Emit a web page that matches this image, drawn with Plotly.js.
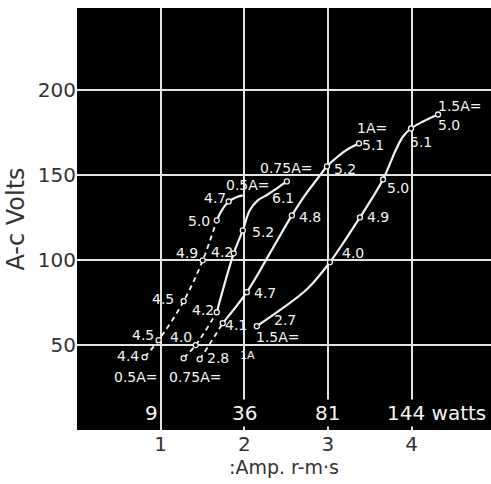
<!DOCTYPE html>
<html><head><meta charset="utf-8">
<script src="https://cdn.plot.ly/plotly-3.0.1.min.js"></script>
</head><body style="margin:0;background:#fff">
<div id="c" style="width:491px;height:484px"></div>
<script>
// ---- data ----
const xTicks = [1, 2, 3, 4];
const yTicks = [50, 100, 150, 200];
const wattX = [1, 2, 3, 4];
const wattLabels = ['9', '36', '81', '144 watts'];

const x05 = [0.808, 0.976, 1.275, 1.503, 1.671, 1.731, 1.814, 1.898, 1.982];
const y05 = [42.8, 52.8, 75.7, 99.7, 123.2, 129.1, 134.3, 136.7, 137.9];
const lab05 = ['4.4', '4.5', '4.5', '4.9', '5.0', '', '4.7', '', ''];

const x075 = [1.275, 1.419, 1.671, 1.874, 1.982, 2.066, 2.162, 2.281, 2.389, 2.509];
const y075 = [42.2, 49.9, 69.2, 103.8, 117.3, 129.1, 134.9, 138.4, 142.0, 146.1];
const lab075 = ['', '4.0', '4.2', '4.2', '5.2', '', '', '', '', '6.1'];

const x10 = [1.467, 1.563, 1.743, 2.030, 2.305, 2.569, 2.725, 2.868, 2.988, 3.132, 3.251, 3.371];
const y10 = [41.6, 48.7, 62.8, 81.0, 103.8, 126.1, 137.9, 147.2, 154.9, 161.3, 165.4, 168.4];
const lab10 = ['2.8', '', '4.1', '4.7', '', '4.8', '', '', '5.2', '', '', '5.1'];

const x15 = [2.150, 2.425, 2.749, 3.024, 3.204, 3.383, 3.527, 3.659, 3.743, 3.814, 3.898, 3.994, 4.138, 4.317];
const y15 = [61.0, 70.4, 82.7, 98.6, 111.5, 124.9, 136.1, 147.2, 156.6, 164.8, 172.5, 177.2, 181.3, 185.4];
const lab15 = ['2.7', '', '', '4.0', '', '4.9', '', '5.0', '', '', '', '5.1', '', '5.0'];

const startNames = ['0.5A=', '0.75A=', '1A', '1.5A='];
const endNames = ['0.5A=', '0.75A=', '1A=', '1.5A='];

// ---- styling (label offsets in px, dashed portions) ----
const sh05 = [[-17,1],[-16,5],[-21,2],[-16,7],[-18,-1],null,[-14,3],null,null];
const sh075 = [null,[-15,8],[-14,2],[-12,1],[20,-2],null,null,null,null,[-4,-17]];
const sh10 = [[18,1],null,[13,-2],[18,-1],null,[18,-2],null,null,[18,-3],null,null,[14,-2]];
const sh15 = [[28,6],null,null,[23,9],null,[18,0],null,[15,-8],null,null,null,[10,-14],null,[11,-10]];
const startShift = [[-9,-20],[11,-19],[48,4],[21,-11]];
const endShift = [[5,10],[-1,13],[13,15],[22,9]];
const startSize = [14, 14, 11, 14];
const dashEnd = [4, 2, 2, 0];

const curves = [
  [x05, y05, lab05, sh05],
  [x075, y075, lab075, sh075],
  [x10, y10, lab10, sh10],
  [x15, y15, lab15, sh15]
];

const LBL = 'DejaVu Sans, sans-serif';
const traces = [];
const ann = [];
curves.forEach(([xs, ys, labs, sh], ci) => {
  const d = dashEnd[ci];
  if (d > 0) {
    traces.push({x: xs.slice(0, d + 1), y: ys.slice(0, d + 1), mode: 'lines',
      line: {color: '#f2f2f2', width: 1.8, dash: '5px,4px', shape: 'spline'}, hoverinfo: 'skip'});
  }
  traces.push({x: xs.slice(d), y: ys.slice(d), mode: 'lines',
    line: {color: '#f2f2f2', width: 2.2, shape: 'spline', smoothing: 1}, hoverinfo: 'skip'});
  const mx = [], my = [];
  xs.forEach((v, i) => {
    if (labs[i] !== '' || i === 0) { mx.push(v); my.push(ys[i]); }
    if (labs[i] !== '') {
      ann.push({x: v, y: ys[i], text: labs[i], showarrow: false,
        xshift: sh[i][0], yshift: sh[i][1], font: {family: LBL, size: 14, color: '#f4f4f4'}});
    }
  });
  traces.push({x: mx, y: my, mode: 'markers',
    marker: {symbol: 'circle', size: 5, color: '#000', line: {color: '#f2f2f2', width: 1.3}}, hoverinfo: 'skip'});
  ann.push({x: xs[0], y: ys[0], text: startNames[ci], showarrow: false,
    xshift: startShift[ci][0], yshift: startShift[ci][1], font: {family: LBL, size: startSize[ci], color: '#f4f4f4'}});
  const n = xs.length - 1;
  ann.push({x: xs[n], y: ys[n], text: endNames[ci], showarrow: false,
    xshift: endShift[ci][0], yshift: endShift[ci][1], font: {family: LBL, size: 14, color: '#f4f4f4'}});
});

// watts labels along the bottom of the plot
wattLabels.forEach((t, i) => {
  const first = i === 0;
  ann.push({x: wattX[i], y: 0, yref: 'y', text: t, showarrow: false,
    xanchor: first ? 'right' : (i === 3 ? 'left' : 'center'), yanchor: 'bottom',
    xshift: first ? -1 : (i === 3 ? -27 : 0), yshift: 3,
    bgcolor: first ? 'rgba(0,0,0,0)' : '#000', borderpad: 1,
    font: {family: LBL, size: 20, color: '#f4f4f4'}});
});

const layout = {
  width: 491, height: 484,
  margin: {l: 77, r: 0, t: 8, b: 54},
  paper_bgcolor: '#fff', plot_bgcolor: '#000',
  showlegend: false,
  font: {family: LBL, color: '#333'},
  xaxis: {range: [0, 4.95], tickvals: xTicks, ticktext: xTicks.map(String),
    showgrid: true, gridcolor: '#e4e4e4', gridwidth: 2, zeroline: false, showline: false,
    ticks: '', tickfont: {family: LBL, size: 20, color: '#333'},
    title: {text: ':Amp. r-m·s', font: {family: LBL, size: 19, color: '#333'}, standoff: 1}},
  yaxis: {range: [0, 248], tickvals: yTicks, ticktext: yTicks.map(String),
    showgrid: true, gridcolor: '#e4e4e4', gridwidth: 2, zeroline: false, showline: false,
    ticks: '', tickfont: {family: LBL, size: 20, color: '#333'},
    title: {text: 'A-c Volts', font: {family: LBL, size: 24, color: '#333'}, standoff: 6}},
  annotations: ann
};

Plotly.newPlot('c', traces, layout, {displayModeBar: false, staticPlot: true});
</script>
</body></html>
